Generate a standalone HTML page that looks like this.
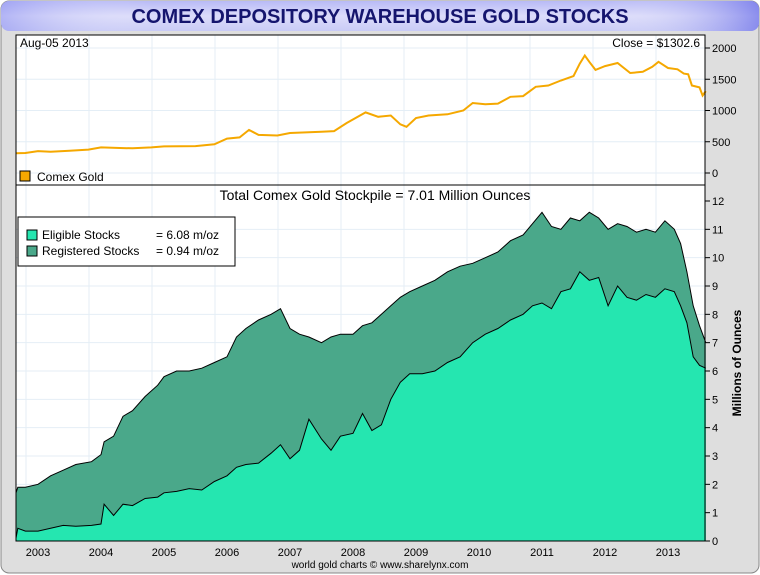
<!DOCTYPE html>
<html><head><meta charset="utf-8"><style>
body{margin:0;background:#fff;}
svg{display:block;font-family:"Liberation Sans",sans-serif;}
</style></head><body>
<svg width="760" height="575" viewBox="0 0 760 575">
<defs>
<linearGradient id="tg" x1="0" y1="0" x2="0" y2="1"><stop offset="0" stop-color="#b8baf6"/><stop offset="0.5" stop-color="#dcdcfa"/><stop offset="1" stop-color="#c9cbf6"/></linearGradient>
<linearGradient id="tg2" x1="0" y1="0" x2="1" y2="0"><stop offset="0" stop-color="#8a8ef0" stop-opacity="0.5"/><stop offset="0.2" stop-color="#fff" stop-opacity="0"/><stop offset="0.8" stop-color="#fff" stop-opacity="0"/><stop offset="1" stop-color="#6a6ee8" stop-opacity="0.7"/></linearGradient>
</defs>
<rect x="1" y="1" width="758" height="572" rx="8" fill="#dedede" stroke="#888"/>
<rect x="1" y="1" width="758" height="30" rx="8" fill="url(#tg)"/>
<rect x="1" y="1" width="758" height="30" rx="8" fill="url(#tg2)"/>
<text x="380" y="23" text-anchor="middle" font-size="20" font-weight="bold" fill="#15156e">COMEX DEPOSITORY WAREHOUSE GOLD STOCKS</text>
<rect x="16" y="35" width="689" height="506" fill="#fff"/>
<g id="grid"></g>
<g id="topPanel"></g>
<g id="botPanel"></g>
<line x1="16" y1="185" x2="705" y2="185" stroke="#000"/>
<rect x="16" y="35" width="689" height="506" fill="none" stroke="#000"/>
<text x="20" y="47" font-size="12">Aug-05  2013</text>
<text x="700" y="47" font-size="12" text-anchor="end">Close = $1302.6</text>
<rect x="20" y="171" width="10" height="10" fill="#f5a800" stroke="#000"/>
<text x="37" y="181" font-size="12">Comex Gold</text>
<text x="375" y="200" font-size="14" text-anchor="middle">Total Comex Gold Stockpile = 7.01 Million Ounces</text>
<g>
<rect x="18" y="217" width="217" height="49" fill="#fff" stroke="#000"/>
<rect x="27" y="230" width="10" height="10" fill="#25e6b0" stroke="#000"/>
<text x="42" y="239" font-size="12">Eligible Stocks</text>
<text x="156" y="239" font-size="12">= 6.08 m/oz</text>
<rect x="27" y="246" width="10" height="10" fill="#4aa88a" stroke="#000"/>
<text x="42" y="255" font-size="12">Registered Stocks</text>
<text x="156" y="255" font-size="12">= 0.94 m/oz</text>
</g>
<text transform="translate(741,363) rotate(-90)" font-size="12" font-weight="bold" text-anchor="middle">Millions of Ounces</text>
<text x="380" y="568" font-size="10" text-anchor="middle">world gold charts © www.sharelynx.com</text>
<g id="axes"></g>
</svg>
<script>
const years=[2003,2004,2005,2006,2007,2008,2009,2010,2011,2012,2013];
const goldTicks=[0,500,1000,1500,2000];
const stockTicks=[0,1,2,3,4,5,6,7,8,9,10,11,12];
const goldT=[2002.65,2002.8,2003.0,2003.2,2003.5,2003.8,2004.0,2004.3,2004.5,2004.8,2005.0,2005.5,2005.8,2006.0,2006.2,2006.35,2006.5,2006.8,2007.0,2007.5,2007.7,2007.9,2008.2,2008.4,2008.6,2008.75,2008.85,2009.0,2009.2,2009.5,2009.75,2009.9,2010.1,2010.3,2010.5,2010.7,2010.9,2011.1,2011.3,2011.5,2011.6,2011.68,2011.75,2011.85,2012.0,2012.2,2012.4,2012.6,2012.75,2012.85,2013.0,2013.15,2013.25,2013.32,2013.38,2013.5,2013.55,2013.6];
const goldV=[315,320,350,340,355,375,410,400,395,410,425,430,460,550,570,690,610,600,640,660,670,800,970,900,920,780,740,880,920,940,1000,1120,1100,1110,1220,1230,1380,1400,1480,1550,1750,1880,1780,1650,1710,1760,1600,1620,1700,1780,1680,1660,1590,1580,1400,1370,1240,1310];
const stT=[2002.65,2002.68,2002.8,2003.0,2003.2,2003.4,2003.6,2003.85,2004.0,2004.05,2004.2,2004.35,2004.5,2004.7,2004.9,2005.0,2005.2,2005.4,2005.6,2005.8,2006.0,2006.15,2006.3,2006.5,2006.7,2006.85,2007.0,2007.15,2007.3,2007.5,2007.65,2007.8,2008.0,2008.15,2008.3,2008.45,2008.6,2008.75,2008.9,2009.1,2009.3,2009.5,2009.7,2009.9,2010.1,2010.3,2010.5,2010.7,2010.85,2011.0,2011.15,2011.3,2011.45,2011.6,2011.75,2011.9,2012.05,2012.2,2012.35,2012.5,2012.65,2012.8,2012.95,2013.1,2013.2,2013.3,2013.4,2013.5,2013.6];
const eligible=[0.1,0.45,0.35,0.35,0.45,0.55,0.52,0.55,0.6,1.3,0.9,1.3,1.25,1.5,1.55,1.7,1.75,1.85,1.8,2.1,2.3,2.6,2.7,2.75,3.1,3.4,2.9,3.2,4.3,3.6,3.2,3.7,3.8,4.5,3.9,4.1,5.0,5.6,5.9,5.9,6.0,6.3,6.5,7.0,7.3,7.5,7.8,8.0,8.3,8.4,8.2,8.8,8.9,9.5,9.2,9.3,8.3,9.0,8.6,8.5,8.7,8.6,8.9,8.8,8.3,7.7,6.5,6.2,6.1];
const total=[1.7,1.9,1.9,2.0,2.3,2.5,2.7,2.8,3.05,3.5,3.7,4.4,4.6,5.1,5.5,5.8,6.0,6.0,6.1,6.3,6.5,7.2,7.5,7.8,8.0,8.2,7.5,7.3,7.2,7.0,7.2,7.3,7.3,7.6,7.7,8.0,8.3,8.6,8.8,9.0,9.2,9.5,9.7,9.8,10.0,10.2,10.6,10.8,11.2,11.6,11.1,11.0,11.4,11.3,11.6,11.4,11.0,11.2,11.1,10.9,11.0,10.9,11.3,11.0,10.5,9.5,8.3,7.6,7.0];
const NS="http://www.w3.org/2000/svg";
const X=t=>38+(t-2003)*63;
const YG=v=>173-v*125/2000;
const YS=v=>541-v*340/12;
function mk(tag,a,p){const e=document.createElementNS(NS,tag);for(const k in a)e.setAttribute(k,a[k]);p.appendChild(e);return e;}
const gridG=document.getElementById('grid'),topG=document.getElementById('topPanel'),botG=document.getElementById('botPanel'),axesG=document.getElementById('axes');
goldTicks.forEach(v=>{mk('line',{x1:16,x2:705,y1:YG(v),y2:YG(v),stroke:'#e4eef6'},gridG);
 mk('line',{x1:705,x2:710,y1:YG(v),y2:YG(v),stroke:'#000'},axesG);
 const t=mk('text',{x:712,y:YG(v)+4,'font-size':11},axesG);t.textContent=v;
 
 });
stockTicks.forEach(v=>{if(v>0&&v<12)mk('line',{x1:16,x2:705,y1:YS(v),y2:YS(v),stroke:'#e4eef6'},gridG);
 mk('line',{x1:705,x2:710,y1:YS(v),y2:YS(v),stroke:'#000'},axesG);
 const t=mk('text',{x:712,y:YS(v)+4,'font-size':11},axesG);t.textContent=v;
 
 });
years.forEach(y=>{mk('line',{x1:X(y)-12,x2:X(y)-12,y1:35,y2:541,stroke:'#e4eef6'},gridG);
 const t=mk('text',{x:X(y),y:556,'font-size':11,'text-anchor':'middle'},axesG);t.textContent=y;
 
 });
const gp=goldT.map((t,i)=>(i?'L':'M')+X(t).toFixed(1)+','+YG(goldV[i]).toFixed(1)).join('');
const gl=mk('path',{d:gp,fill:'none',stroke:'#f5a800','stroke-width':2},topG);


const x0=Math.max(16,X(stT[0])),x1=X(stT[stT.length-1]);
const tp=stT.map((t,i)=>'L'+X(t).toFixed(1)+','+YS(total[i]).toFixed(1)).join('');
const ta=mk('path',{d:'M'+x0+','+YS(0)+tp+'L'+x1+','+YS(0)+'Z',fill:'#4aa88a'},botG);


const ep=stT.map((t,i)=>'L'+X(t).toFixed(1)+','+YS(eligible[i]).toFixed(1)).join('');
const ea=mk('path',{d:'M'+x0+','+YS(0)+ep+'L'+x1+','+YS(0)+'Z',fill:'#25e6b0'},botG);


mk('path',{d:'M'+tp.slice(1),fill:'none',stroke:'#000','stroke-width':1},botG);
mk('path',{d:'M'+ep.slice(1),fill:'none',stroke:'#000','stroke-width':1},botG);
</script>
</body></html>
